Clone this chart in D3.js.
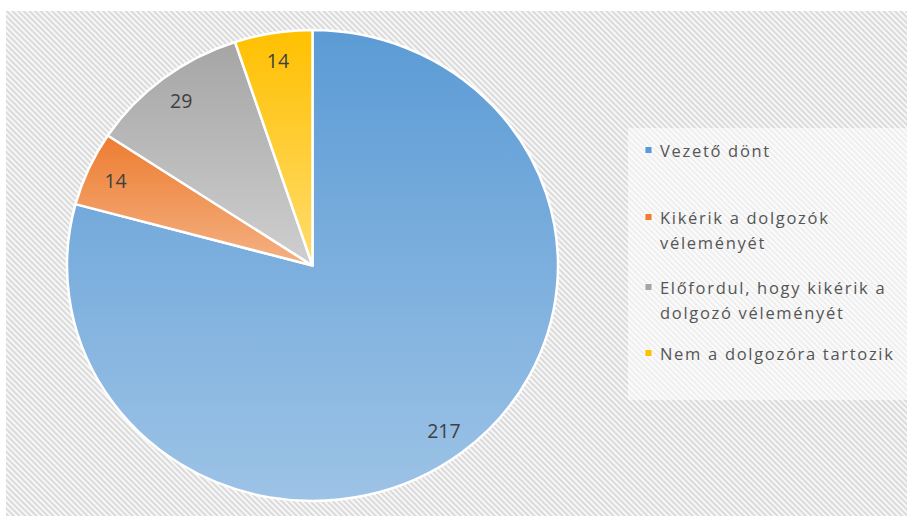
<!DOCTYPE html>
<html>
<head>
<meta charset="utf-8">
<script src="https://cdn.jsdelivr.net/npm/d3@7"></script>
<style>
  html, body { margin: 0; padding: 0; background: #ffffff; }
  svg { display: block; }
</style>
</head>
<body>
<svg id="chart" width="907" height="518"></svg>
<script>
// Answers and counts
const categories = [
  "Vezető dönt",
  "Kikérik a dolgozók véleményét",
  "Előfordul, hogy kikérik a dolgozó véleményét",
  "Nem a dolgozóra tartozik"
];
const values = [217, 14, 29, 14];
// Legend text, broken into lines
const legendLines = [
  ["Vezető dönt"],
  ["Kikérik a dolgozók", "véleményét"],
  ["Előfordul, hogy kikérik a", "dolgozó véleményét"],
  ["Nem a dolgozóra tartozik"]
];
// Gradient stops per slice: top colour, bottom colour
const colorsTop = ["#5b9bd5", "#ed7d31", "#a5a5a5", "#ffc000"];
const colorsBottom = ["#9dc3e6", "#f4b183", "#cfcfcf", "#ffdc6e"];

const svg = d3.select("#chart");
const defs = svg.append("defs");

// Diagonal hatch for the chart area
const hatch = defs.append("pattern")
  .attr("id", "hatch")
  .attr("patternUnits", "userSpaceOnUse")
  .attr("width", 4).attr("height", 4)
  .attr("patternTransform", "rotate(-45)");
hatch.append("rect").attr("width", 4).attr("height", 4).attr("fill", "#f7f7f7");
hatch.append("rect").attr("width", 1.9).attr("height", 4).attr("fill", "#d9d9d9");

categories.forEach((c, i) => {
  const g = defs.append("linearGradient")
    .attr("id", "grad" + i)
    .attr("x1", 0).attr("y1", 0).attr("x2", 0).attr("y2", 1);
  g.append("stop").attr("offset", "0%").attr("stop-color", colorsTop[i]);
  g.append("stop").attr("offset", "100%").attr("stop-color", colorsBottom[i]);
});

// Chart area background
svg.append("rect")
  .attr("x", 6).attr("y", 11)
  .attr("width", 907 - 6).attr("height", 516 - 11)
  .attr("fill", "url(#hatch)");

// Pie
const cx = 312.5, cy = 265.5, R = 235.5, sx = 245.5 / 235.5;
const pie = d3.pie().sort(null).value(d => d);
const arcs = pie(values);
const arc = d3.arc().innerRadius(0).outerRadius(R);

const pieG = svg.append("g")
  .attr("transform", `translate(${cx},${cy}) scale(${sx},1)`);

pieG.selectAll("path")
  .data(arcs)
  .join("path")
  .attr("d", arc)
  .attr("fill", (d, i) => `url(#grad${i})`)
  .attr("stroke", "#ffffff")
  .attr("stroke-width", 2.5)
  .attr("stroke-linejoin", "round")
  .attr("vector-effect", "non-scaling-stroke");

// Value labels
const labelArc = d3.arc().innerRadius(R * 0.88).outerRadius(R * 0.88);
svg.append("g")
  .selectAll("text")
  .data(arcs)
  .join("text")
  .attr("x", d => cx + labelArc.centroid(d)[0] * sx)
  .attr("y", d => cy + labelArc.centroid(d)[1])
  .attr("text-anchor", "middle")
  .attr("dominant-baseline", "central")
  .attr("font-family", "'Open Sans', sans-serif")
  .attr("font-size", 19.5)
  .attr("fill", "#404040")
  .text(d => d.data);

// Legend
svg.append("rect")
  .attr("x", 628).attr("y", 128)
  .attr("width", 907 - 628).attr("height", 400 - 128)
  .attr("fill", "#ffffff").attr("fill-opacity", 0.55);

const lineH = 25;
const itemTop = [150, 217, 287, 353];
const legend = svg.append("g");
categories.forEach((c, i) => {
  const y0 = itemTop[i];
  legend.append("rect")
    .attr("x", 645).attr("y", y0 - 3.5)
    .attr("width", 7).attr("height", 7)
    .attr("fill", colorsTop[i])
    .attr("stroke", "#ffffff").attr("stroke-width", 0.8);
  legendLines[i].forEach((t, j) => {
    legend.append("text")
      .attr("x", 660)
      .attr("y", y0 + j * lineH)
      .attr("dominant-baseline", "central")
      .attr("font-family", "'Open Sans', sans-serif")
      .attr("font-size", 16.5)
      .attr("letter-spacing", 1.7)
      .attr("fill", "#555555")
      .text(t);
  });
});
</script>
</body>
</html>
